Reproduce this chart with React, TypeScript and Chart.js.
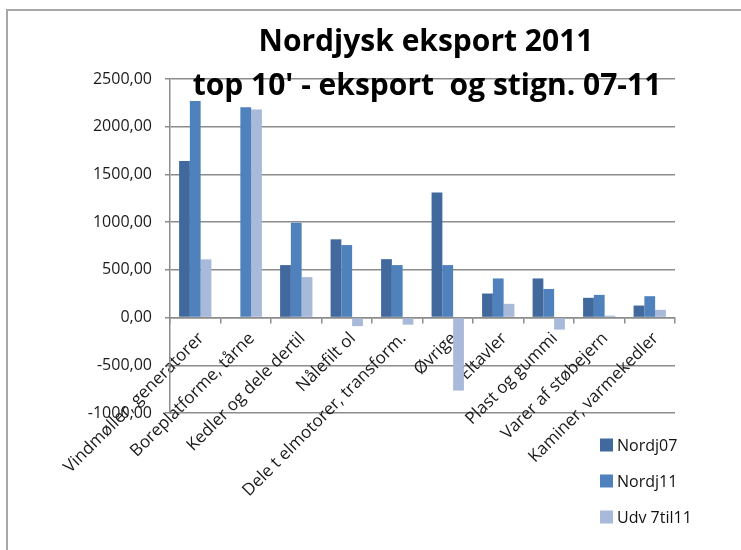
import React, { useEffect, useRef } from 'react';
import { Chart, registerables } from 'chart.js';

Chart.register(...registerables);

const categories = [
  'Vindmøller, generatorer',
  'Boreplatforme, tårne',
  'Kedler og dele dertil',
  'Nålefilt ol',
  'Dele t elmotorer, transform.',
  'Øvrige',
  'Eltavler',
  'Plast og gummi',
  'Varer af støbejern',
  'Kaminer, varmekedler',
];
const nordj07 = [1640, null, 550, 820, 612, 1310, 252, 410, 207, 126];
const nordj11 = [2270, 2205, 994, 760, 550, 550, 410, 300, 238, 224];
const udv7til11 = [610, 2180, 424, -90, -74, -765, 144, -126, 20, 81];
const seriesNames = ['Nordj07', 'Nordj11', 'Udv 7til11'];
const yMin = -1000;
const yMax = 2500;
const yStep = 500;
const titleLines = ['Nordjysk eksport 2011', "top 10' - eksport  og stign. 07-11"];

const colors = ['#41699E', '#4F81BD', '#A8B9DA'];
const FONT = "'Open Sans', 'DejaVu Sans', sans-serif";

const overlayPlugin = {
  id: 'overlay',
  afterDraw(chart: any) {
    const ctx = chart.ctx as CanvasRenderingContext2D;
    ctx.save();
    // title
    ctx.fillStyle = '#000';
    ctx.textAlign = 'center';
    ctx.textBaseline = 'alphabetic';
    ctx.font = `bold 30px ${FONT}`;
    ctx.fillText(titleLines[0], 426, 51);
    ctx.fillText(titleLines[1], 427, 95);
    // legend
    ctx.font = `16px ${FONT}`;
    ctx.textAlign = 'left';
    ctx.textBaseline = 'middle';
    const ys = [445, 481, 517];
    chart.data.datasets.forEach((ds: any, i: number) => {
      ctx.fillStyle = ds.backgroundColor;
      ctx.fillRect(600, ys[i] - 6.5, 13, 13);
      ctx.fillStyle = '#111';
      ctx.fillText(ds.label, 617, ys[i] + 1);
    });
    ctx.restore();
  },
};

export default function App() {
  const ref = useRef<HTMLCanvasElement>(null);
  useEffect(() => {
    if (!ref.current) return;
    const chart = new Chart(ref.current, {
      type: 'bar',
      data: {
        labels: categories,
        datasets: [
          { label: seriesNames[0], data: nordj07 as any, backgroundColor: colors[0] },
          { label: seriesNames[1], data: nordj11, backgroundColor: colors[1] },
          { label: seriesNames[2], data: udv7til11, backgroundColor: colors[2] },
        ],
      },
      options: {
        responsive: false,
        animation: false,
        layout: { padding: { left: 0, top: 79, right: 66, bottom: 137 } },
        datasets: { bar: { categoryPercentage: 0.64, barPercentage: 1 } },
        plugins: {
          legend: { display: false },
          title: { display: false },
          tooltip: { enabled: false },
        },
        scales: {
          x: {
            position: { y: 0 } as any,
            grid: { drawOnChartArea: false, drawTicks: true, tickLength: 5, color: '#8c8c8c', lineWidth: 1.5 },
            border: { display: true, color: '#8c8c8c', width: 1.5 },
            ticks: {
              minRotation: 45,
              maxRotation: 45,
              autoSkip: false,
              padding: 6,
              labelOffset: 6,
              color: '#1a1a1a',
              font: { family: FONT, size: 17 },
            },
          },
          y: {
            min: yMin,
            max: yMax,
            afterFit: (scale: any) => {
              scale.width = 170;
            },
            grid: { color: '#8c8c8c', lineWidth: 1.5, tickLength: 5 },
            border: { display: true, color: '#8c8c8c', width: 1.5 },
            ticks: {
              stepSize: yStep,
              padding: 13,
              color: '#1a1a1a',
              font: { family: FONT, size: 16 },
              callback: (v: any) => Number(v).toFixed(2).replace('.', ','),
            },
          },
        },
      },
      plugins: [overlayPlugin],
    });
    return () => chart.destroy();
  }, []);

  return (
    <div style={{ position: 'fixed', left: 0, top: 0, width: 741, height: 550, overflow: 'hidden', background: '#fff' }}>
      <div
        style={{
          position: 'absolute',
          left: 6,
          top: 9,
          width: 900,
          height: 900,
          borderLeft: '2px solid #a8a8a8',
          borderTop: '2px solid #a8a8a8',
        }}
      />
      <canvas ref={ref} width={741} height={550} style={{ position: 'absolute', left: 0, top: 0 }} />
    </div>
  );
}
